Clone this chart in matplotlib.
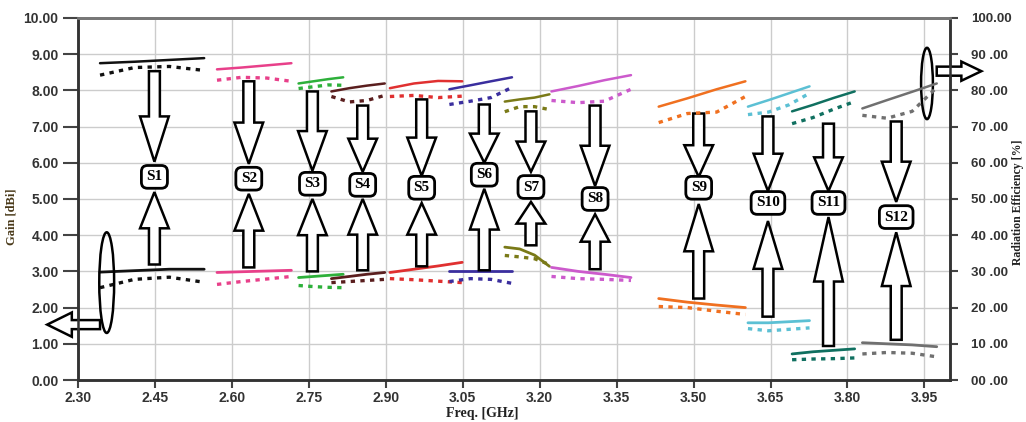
import matplotlib
matplotlib.use('Agg')
import matplotlib.pyplot as plt
from matplotlib.patches import Ellipse, FancyArrow

# frequency points of the 12 sub-bands (GHz)
freq = [
    [2.343, 2.410, 2.478, 2.546],
    [2.571, 2.619, 2.668, 2.716],
    [2.730, 2.759, 2.788, 2.817],
    [2.794, 2.829, 2.863, 2.898],
    [2.908, 2.955, 3.002, 3.049],
    [3.024, 3.065, 3.105, 3.146],
    [3.132, 3.161, 3.190, 3.219],
    [3.223, 3.275, 3.326, 3.378],
    [3.432, 3.488, 3.545, 3.601],
    [3.606, 3.646, 3.686, 3.726],
    [3.692, 3.733, 3.773, 3.814],
    [3.829, 3.877, 3.926, 3.974],
]

# radiation efficiency [%], solid and dotted curves
eff_solid = [
    [87.5, 87.9, 88.4, 88.9],
    [85.8, 86.3, 86.9, 87.5],
    [81.9, 82.5, 83.1, 83.6],
    [79.7, 80.6, 81.3, 81.9],
    [80.6, 81.9, 82.6, 82.5],
    [80.3, 81.4, 82.5, 83.6],
    [76.9, 77.5, 78.0, 78.9],
    [79.7, 81.2, 82.8, 84.2],
    [75.5, 77.8, 80.3, 82.5],
    [75.5, 77.3, 79.2, 81.1],
    [74.2, 76.0, 77.9, 79.7],
    [75.0, 77.3, 79.6, 81.9],
]
eff_dot = [
    [84.2, 86.3, 86.6, 85.5],
    [82.8, 83.6, 83.4, 82.5],
    [80.5, 81.0, 81.5, 81.4],
    [78.3, 76.8, 77.2, 78.6],
    [78.3, 78.6, 78.0, 78.4],
    [76.1, 77.0, 78.0, 80.8],
    [74.1, 75.5, 75.5, 74.7],
    [77.2, 76.6, 77.0, 80.3],
    [71.1, 73.6, 74.0, 78.3],
    [73.3, 74.0, 76.0, 79.2],
    [70.8, 72.5, 74.8, 76.9],
    [73.1, 72.3, 74.2, 80.8],
]

# gain [dBi], solid and dotted curves
gain_solid = [
    [2.98, 3.02, 3.06, 3.06],
    [2.97, 2.99, 3.01, 3.03],
    [2.83, 2.86, 2.89, 2.92],
    [2.80, 2.86, 2.92, 2.97],
    [2.97, 3.06, 3.15, 3.25],
    [3.00, 3.00, 3.00, 3.00],
    [3.67, 3.62, 3.45, 3.14],
    [3.11, 3.00, 2.92, 2.83],
    [2.25, 2.15, 2.07, 2.00],
    [1.58, 1.58, 1.61, 1.64],
    [0.72, 0.78, 0.82, 0.86],
    [1.03, 1.00, 0.97, 0.92],
]
gain_dot = [
    [2.55, 2.78, 2.84, 2.70],
    [2.64, 2.72, 2.79, 2.86],
    [2.61, 2.58, 2.56, 2.55],
    [2.69, 2.72, 2.75, 2.78],
    [2.80, 2.77, 2.73, 2.69],
    [2.72, 2.80, 2.78, 2.67],
    [3.44, 3.40, 3.35, 3.19],
    [2.86, 2.80, 2.78, 2.75],
    [2.03, 2.00, 1.90, 1.81],
    [1.42, 1.36, 1.40, 1.44],
    [0.56, 0.58, 0.59, 0.61],
    [0.72, 0.76, 0.74, 0.64],
]

labels = ['S%d' % (i + 1) for i in range(12)]
colors = ['#111111', '#e8408a', '#2db03a', '#5a1e1e', '#e03030', '#3a2e9e',
          '#7a7a18', '#cc5acc', '#f07020', '#5cc0d4', '#107060', '#707070']

# label box positions (GHz, dBi) and arrow ends (dBi)
lab_x = [2.449, 2.633, 2.757, 2.855, 2.970, 3.092, 3.183, 3.308, 3.510, 3.645, 3.763, 3.895]
lab_y = [5.61, 5.56, 5.42, 5.39, 5.31, 5.67, 5.33, 5.00, 5.31, 4.89, 4.89, 4.50]
down_from = [8.53, 8.25, 7.97, 7.58, 7.75, 7.61, 7.42, 7.58, 7.36, 7.28, 7.08, 7.14]
down_to = [6.03, 5.97, 5.78, 5.75, 5.64, 6.00, 5.75, 5.36, 5.61, 5.22, 5.22, 4.92]
up_from = [3.19, 3.11, 3.00, 3.03, 3.14, 3.03, 3.72, 3.06, 2.25, 1.75, 0.94, 1.11]
up_to = [5.19, 5.14, 5.00, 5.00, 4.89, 5.28, 4.92, 4.58, 4.86, 4.39, 4.50, 4.08]

xticks = [2.30, 2.45, 2.60, 2.75, 2.90, 3.05, 3.20, 3.35, 3.50, 3.65, 3.80, 3.95]
gain_ticks = list(range(11))
eff_ticks = list(range(0, 101, 10))

fig = plt.figure(figsize=(10.26, 4.22), dpi=100)
ax = fig.add_axes([0.076, 0.0995, 0.85, 0.858])
ax2 = ax.twinx()

ax.set_xlim(2.30, 4.00)
ax.set_ylim(0, 10)
ax2.set_ylim(0, 100)

ax.set_xticks(xticks)
ax.set_xticklabels(['%.2f' % t for t in xticks])
ax.set_yticks(gain_ticks)
ax.set_yticklabels(['%.2f' % t for t in gain_ticks])
ax2.set_yticks(eff_ticks)
# the right axis labels have a gap before the decimals, as in the original
ax2.set_yticklabels(['%02d .00' % t for t in eff_ticks[:-1]] + ['100.00'])

ax.grid(True, color='#cccccc', lw=1)
ax.set_axisbelow(True)

for lab in ax.get_xticklabels() + ax.get_yticklabels():
    lab.set_fontfamily('Liberation Sans')
    lab.set_fontweight('bold')
    lab.set_fontsize(10)
    lab.set_color('#333333')
for lab in ax2.get_yticklabels():
    lab.set_fontfamily('Liberation Sans')
    lab.set_fontweight('bold')
    lab.set_fontsize(9.5)
    lab.set_color('#333333')
ax.tick_params(axis='y', direction='out', length=11, width=1.5, color='#444444', pad=3)
ax.tick_params(axis='x', direction='out', length=6, width=1.5, color='#444444', pad=2)
ax2.tick_params(axis='y', direction='out', length=6, width=1.5, color='#444444', pad=9)

for a in (ax, ax2):
    for side in ('left', 'bottom', 'right'):
        a.spines[side].set_color('#333333')
        a.spines[side].set_linewidth(1.8)
    a.spines['top'].set_color('#777777')
    a.spines['top'].set_linewidth(2)

ax.set_xlabel('Freq. [GHz]', family='Liberation Serif', weight='bold', size=10, color='#222222')
ax.xaxis.set_label_coords(0.464, -0.075)
ax.set_ylabel('Gain [dBi]', family='Liberation Serif', weight='bold', size=9, color='#4a3a1a')
ax.yaxis.set_label_coords(-0.069, 0.45)
ax2.set_ylabel('Radiation Efficiency [%]', family='Liberation Serif', weight='bold', size=8.5,
               color='#222222', rotation=90)
ax2.yaxis.set_label_coords(1.071, 0.49)

dotted = (0, (1.3, 1.6))
for i in range(12):
    c = colors[i]
    ax2.plot(freq[i], eff_solid[i], color=c, lw=1.8, solid_capstyle='round')
    ax2.plot(freq[i], eff_dot[i], color=c, lw=2.4, linestyle=dotted)
    ax.plot(freq[i], gain_solid[i], color=c, lw=2.0, solid_capstyle='round')
    ax.plot(freq[i], gain_dot[i], color=c, lw=2.4, linestyle=dotted)

# hollow block arrows and label boxes
shaft = 0.0213
head = 0.056
for i in range(12):
    x = lab_x[i]
    for y0, y1 in ((down_from[i], down_to[i]), (up_from[i], up_to[i])):
        dy = y1 - y0
        arr = FancyArrow(x, y0, 0, dy, width=shaft, head_width=head,
                         head_length=abs(dy) * 0.5, length_includes_head=True,
                         fc='white', ec='black', lw=1.8, zorder=4)
        ax.add_patch(arr)
    ax.text(x, lab_y[i], labels[i], ha='center', va='center', zorder=5,
            family='Liberation Serif', weight='bold', size=11,
            bbox=dict(boxstyle='round,pad=0.32,rounding_size=0.4', fc='white',
                      ec='black', lw=2))

# ellipses pointing to the axes
ax.add_patch(Ellipse((2.356, 2.69), 0.029, 2.78, fill=False, ec='black', lw=1.8,
                     zorder=5, clip_on=False))
ax.add_patch(FancyArrow(2.343, 1.53, -0.103, 0, width=0.25, head_width=0.67,
                        head_length=0.048, length_includes_head=True, fc='white',
                        ec='black', lw=1.8, zorder=5, clip_on=False))
ax.add_patch(Ellipse((3.955, 8.19), 0.023, 1.97, fill=False, ec='black', lw=1.8,
                     zorder=5, clip_on=False))
ax.add_patch(FancyArrow(3.974, 8.53, 0.087, 0, width=0.25, head_width=0.53,
                        head_length=0.039, length_includes_head=True, fc='white',
                        ec='black', lw=1.8, zorder=5, clip_on=False))

fig.savefig('out.png', dpi=100)
